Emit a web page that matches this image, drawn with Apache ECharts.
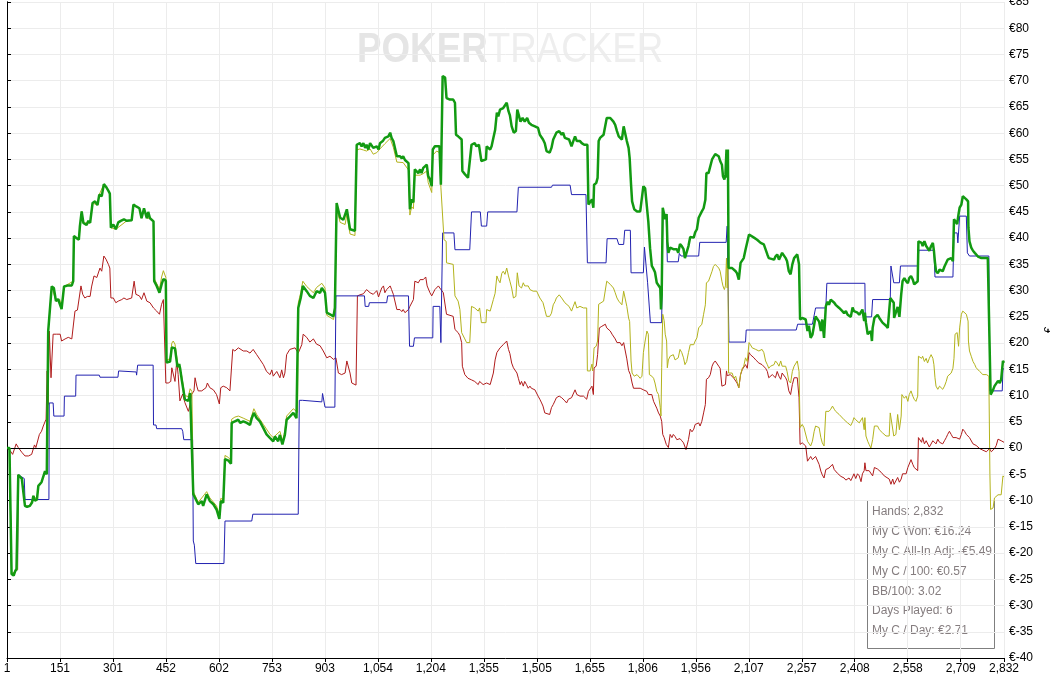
<!DOCTYPE html>
<html>
<head>
<meta charset="utf-8">
<script src="https://cdn.jsdelivr.net/npm/echarts@6/dist/echarts.min.js"></script>
<style>
html,body{margin:0;padding:0;background:#fff;overflow:hidden;}
#chart{width:1050px;height:678px;}
</style>
</head>
<body>
<div id="chart"></div>
<script>
// [hand, euro] points
const wonLine = [[1,0],[8,0],[11,-12],[14,-24],[20,-24.3],[24,-23.5],[28,-23],[31,-23.2],[33,-5.1],[38,-5.3],[43,-5.8],[48,-6],[52,-11],[58,-11.2],[66,-11],[72,-10.4],[76,-9.1],[80,-10],[86,-9.8],[90,-7.2],[95,-7],[99,-6.5],[104,-6.2],[109,-4.4],[114,-5],[116,-4.8],[118,22.3],[123,22.5],[128,30.8],[134,30.5],[140,28],[146,28.4],[151,28.3],[156,26.5],[163,30.8],[175,31],[185,31],[189,31.8],[191,40.4],[199,40],[205,39.7],[208,42.3],[213,45.1],[218,42.9],[227,42.5],[232,43.3],[237,42.9],[244,46.7],[251,47],[258,46.3],[263,48.3],[270,48],[276,50.3],[282,49.8],[289,49],[293,48.5],[296,42],[303,42.6],[310,41.7],[317,43],[324,43.3],[333,43.6],[341,43.3],[355,43.4],[360,46.4],[369,46],[377,45.7],[383,43.8],[390,45.7],[398,43.8],[402,45],[407,43.8],[417,43.2],[419,31.8],[426,30.9],[434,29.6],[440,31.2],[445,32.2],[452,31.9],[454,16.3],[464,16.5],[469,19.2],[478,19],[485,15.5],[490,16],[493,15],[497,13.1],[506,9.3],[516,9],[521,10.5],[526,10.3],[530,-8.8],[535,-8.7],[544,-10.7],[554,-10.1],[558,-11],[568,-8.8],[577,-10.1],[587,-10.7],[596,-11.7],[604,-13.5],[608,-10.1],[615,-10.4],[620,-2.1],[630,-2.4],[637,-3],[639,4.8],[648,5.1],[658,5.4],[663,4.8],[672,5.1],[682,4.8],[691,4.4],[696,5.7],[702,6.7],[710,5.7],[719,5.1],[729,3.8],[738,2.6],[748,1.9],[757,1.3],[762,2.2],[771,1.3],[776,2.5],[783,0.7],[790,2.5],[795,5.4],[804,6],[814,6.7],[823,5.7],[826,6],[828,26.7],[835,28.6],[841,30.9],[852,29.9],[861,29],[871,28.6],[880,29.9],[890,29.6],[895,30.5],[904,29.6],[909,25.8],[918,25.5],[928,25.1],[932,26.7],[937,46.7],[942,47],[947,43.9],[956,43.5],[961,43.4],[966,45.5],[970,45.7],[975,41.7],[989,41.4],[994,57.8],[1003,58.1],[1008,57.5],[1013,58.1],[1018,57.2],[1022,57.8],[1027,56.9],[1032,58.1],[1037,57.8],[1041,57.2],[1046,56.9],[1051,57.5],[1056,56.9],[1060,58.1],[1068,58.5],[1074,59.1],[1079,58.8],[1084,59.4],[1089,60.1],[1093,59.1],[1098,58.5],[1103,58.5],[1108,55.6],[1117,55.6],[1122,55.2],[1126,55.6],[1131,54.9],[1136,55.2],[1141,54.3],[1145,45.5],[1150,47.4],[1155,46.8],[1159,53.1],[1164,53.4],[1169,52.4],[1174,53.1],[1178,52.4],[1183,53.4],[1188,53.7],[1193,54],[1197,51.8],[1202,51.2],[1207,49.9],[1210,56.9],[1216,57.5],[1221,57.8],[1229,57.5],[1233,50.2],[1235,50.5],[1238,70.9],[1245,70.6],[1249,66.7],[1259,66.4],[1268,66.4],[1273,65.8],[1276,59.7],[1282,59.4],[1292,58.8],[1294,52.8],[1301,52.2],[1310,51.5],[1315,51.2],[1320,57.8],[1329,58.1],[1334,57.5],[1341,57.8],[1348,54.7],[1353,54.7],[1361,55],[1363,57.5],[1368,57.5],[1373,56.9],[1377,57.5],[1382,59.1],[1387,60.6],[1392,63.9],[1396,63.2],[1401,64.5],[1410,64.8],[1415,64.5],[1420,65.8],[1425,64.2],[1429,63.4],[1434,61.3],[1440,60.1],[1446,60.4],[1450,64.5],[1455,64.5],[1459,62.2],[1465,62.9],[1471,62.2],[1478,62.9],[1483,62],[1490,61.6],[1500,61.3],[1509,61],[1514,59.7],[1519,59.4],[1523,58.8],[1528,58.1],[1533,56.6],[1542,56.3],[1547,57.2],[1552,58.8],[1557,59.1],[1561,60.1],[1569,60.4],[1576,59.7],[1580,60.1],[1585,59.1],[1590,59.4],[1597,58.8],[1604,57.5],[1609,58.5],[1614,59.4],[1619,58.5],[1628,58.5],[1633,58.1],[1640,57.8],[1649,57.8],[1652,46.4],[1657,46.4],[1662,47.4],[1666,45.8],[1668,50.2],[1674,50.5],[1678,51.5],[1681,58.5],[1685,59.1],[1690,58.8],[1695,59.7],[1700,59.7],[1704,62.9],[1709,63.2],[1714,62.9],[1719,62.6],[1723,62.2],[1728,61.6],[1733,60.4],[1738,59.4],[1742,59.1],[1747,58.8],[1752,61.3],[1756,61],[1761,58.5],[1766,57.2],[1769,55.3],[1773,50.2],[1776,47],[1782,45.5],[1790,45.1],[1799,45.1],[1804,44.8],[1808,49.9],[1813,49.5],[1818,49.2],[1822,43.2],[1827,38.1],[1832,34.7],[1837,34.1],[1841,33.5],[1846,31.5],[1851,31.5],[1856,30.5],[1858,26.4],[1860,29.2],[1863,45.8],[1867,46.1],[1870,43.6],[1874,44.6],[1876,39.4],[1879,37.2],[1884,38.2],[1893,37.9],[1898,37.6],[1903,37.9],[1907,37.2],[1912,38.9],[1917,38.5],[1922,37.9],[1926,36.2],[1931,36.5],[1936,38.5],[1941,40.2],[1951,40.1],[1955,41.1],[1960,41.7],[1965,43.9],[1969,43.6],[1974,45.1],[1979,45.7],[1984,47.3],[1987,52.4],[1993,52.4],[1998,52.1],[2003,55],[2007,55.3],[2012,56],[2017,56.1],[2022,55.6],[2026,54.7],[2031,54],[2034,51.8],[2038,51.2],[2041,52.1],[2044,56.9],[2046,51.5],[2048,56.9],[2050,34.3],[2055,34.6],[2060,34.3],[2065,34.6],[2070,33.7],[2074,33.3],[2079,32.1],[2084,35.3],[2089,35.6],[2093,36.2],[2098,37.8],[2103,37.5],[2108,40.7],[2112,40.4],[2122,40.1],[2131,39.7],[2141,39.1],[2145,39.4],[2150,38.8],[2155,38.5],[2160,36.9],[2164,36.2],[2169,35.9],[2179,35.9],[2183,36.5],[2188,36.9],[2193,35.9],[2198,35.6],[2202,37.2],[2207,36.9],[2212,36.2],[2216,35.6],[2221,33.7],[2226,33.1],[2231,35],[2236,36.2],[2240,36.5],[2245,36.9],[2250,35],[2253,24.5],[2259,24.8],[2264,24.5],[2269,24.5],[2274,22.3],[2278,23.3],[2283,21],[2288,21.6],[2293,23.5],[2297,25.1],[2302,24.8],[2307,24.1],[2312,22.3],[2316,24.5],[2321,21],[2324,21],[2326,27],[2331,27.9],[2335,27.3],[2340,28.3],[2345,28.6],[2350,27.7],[2354,27.3],[2359,27],[2364,26.7],[2369,26.4],[2373,26.1],[2378,25.7],[2383,26.1],[2388,25.4],[2392,25.7],[2397,25],[2402,26.8],[2406,26.1],[2411,26.4],[2416,25.8],[2421,25.4],[2426,25.1],[2430,26.4],[2435,24.2],[2437,25.8],[2440,23.9],[2445,21.7],[2449,21.4],[2454,22.3],[2457,20.4],[2459,22.9],[2464,24.8],[2468,25.1],[2473,25.4],[2478,24.8],[2483,24.5],[2487,23.9],[2492,23.6],[2497,23.3],[2502,22.9],[2506,22.9],[2509,28.6],[2513,28.3],[2519,27.7],[2520,24.8],[2525,24.8],[2530,26.9],[2535,25],[2540,29.2],[2544,31.8],[2549,32.4],[2554,31.8],[2559,31.4],[2563,32.4],[2568,32.8],[2573,32.1],[2577,31.2],[2582,30.9],[2587,31.8],[2589,39.4],[2594,39.7],[2598,39.1],[2601,38.5],[2606,39.4],[2611,38.5],[2615,38.8],[2620,37.6],[2625,38.5],[2630,39.1],[2633,37.6],[2636,35.4],[2639,33.7],[2644,33.3],[2649,34],[2653,34.3],[2658,33.7],[2663,34.6],[2668,34.9],[2672,35.9],[2677,35.6],[2682,36.2],[2687,35.6],[2690,43.6],[2693,43.6],[2699,42.7],[2703,44.6],[2706,45.8],[2711,46.4],[2715,48],[2720,48],[2725,47.4],[2730,47],[2731,42],[2734,39.4],[2739,38.2],[2744,37.6],[2749,37.2],[2753,36.9],[2758,36.5],[2763,36.5],[2768,36.2],[2772,35.9],[2777,36.2],[2782,35.9],[2786,36.2],[2789,36.1],[2794,10.2],[2801,11.1],[2805,11.8],[2810,11.5],[2815,12.8],[2820,12.4],[2824,13.1],[2829,16.6],[2832,16.24]];

const allInAdjLine = [[1,0],[8,0],[11,-12],[14,-24],[24,-23.5],[31,-23.2],[33,-5.1],[43,-5.8],[52,-11],[66,-11],[76,-9.1],[86,-9.8],[90,-7.2],[99,-6.5],[109,-4.4],[116,-4.8],[118,22.3],[123,22.5],[128,30.8],[140,28],[151,28.3],[156,26.5],[163,30.8],[189,31.8],[191,40.4],[205,39.7],[213,45.1],[218,42.9],[237,42.9],[244,46.7],[258,46.3],[263,48.3],[276,50.3],[289,49],[293,48.5],[296,42],[310,41.7],[341,43.3],[355,43.4],[360,46.4],[377,45.7],[383,43.8],[390,45.7],[398,43.8],[407,43.8],[417,43.2],[419,32.3],[434,30.3],[440,32.6],[445,33.8],[452,32.5],[454,16.8],[464,17],[469,20],[473,20.4],[478,19.8],[485,16.4],[490,16.6],[497,13.8],[506,10],[516,9.8],[521,11.3],[526,10.8],[530,-8.3],[544,-10.3],[554,-9.5],[568,-8.3],[577,-9.5],[596,-11],[604,-12.8],[608,-9.6],[615,-9.8],[620,-1.4],[630,-1.8],[637,-2.4],[639,5.5],[648,5.9],[658,6.1],[672,5.7],[691,5.1],[702,7.5],[710,6.4],[729,4.5],[748,2.6],[757,2],[776,3.2],[783,1.4],[790,3.2],[795,6.1],[814,7.5],[826,6.8],[828,27.6],[835,29.6],[841,31.8],[852,30.8],[871,29.6],[880,30.6],[895,31.4],[904,30.5],[909,25.3],[928,24.5],[932,26],[937,45.7],[942,45.8],[947,43],[961,42.6],[966,44.5],[970,44.8],[975,40.8],[989,40.5],[994,56.8],[1003,57],[1013,56.8],[1022,56.6],[1032,57],[1041,56],[1051,56.3],[1060,57],[1074,58],[1089,59],[1098,57.3],[1103,57.3],[1108,54.5],[1126,54.4],[1141,53],[1145,44.4],[1150,46],[1155,45.6],[1159,52],[1174,52],[1183,52.3],[1193,52.8],[1197,50.6],[1207,48.7],[1210,55.8],[1221,56.6],[1229,56.3],[1233,49.7],[1235,49.6],[1242,39.7],[1248,39.4],[1249,35.3],[1268,35],[1273,29],[1282,28],[1287,26.4],[1292,22],[1301,20.8],[1306,20.1],[1315,20.1],[1320,27],[1329,26.7],[1339,26.1],[1343,26.7],[1348,23.9],[1353,23.6],[1361,23.9],[1363,26.4],[1373,26.1],[1377,26.4],[1382,28.3],[1387,29.5],[1392,32.8],[1396,32.1],[1401,31.5],[1406,33.3],[1410,33.7],[1415,33.1],[1420,34.3],[1425,32.8],[1429,31.8],[1434,30.5],[1439,28.6],[1446,28.9],[1450,33.4],[1455,30.9],[1462,30.5],[1467,31.5],[1471,30.9],[1476,31.2],[1481,30.9],[1486,30.2],[1495,29.9],[1505,29.9],[1514,28.6],[1523,27.7],[1528,26.4],[1533,25.1],[1542,25.1],[1547,25.7],[1552,27.3],[1557,27.9],[1561,28.6],[1569,29.2],[1576,28.6],[1580,28.9],[1585,27.7],[1590,28],[1597,27],[1604,26.1],[1609,27],[1614,27.9],[1619,26.7],[1628,27],[1638,26.7],[1647,26.7],[1649,14.7],[1657,14.7],[1662,16],[1664,14.7],[1668,19.1],[1674,19.4],[1678,20.4],[1681,27.4],[1685,27.7],[1695,28],[1700,28.3],[1704,31.8],[1709,31.5],[1714,31.2],[1723,30.5],[1728,29.6],[1733,28.6],[1738,28],[1742,27.7],[1747,27.3],[1752,29.9],[1756,29.9],[1761,27],[1766,24.8],[1769,24.1],[1773,16.6],[1776,14.3],[1782,13.7],[1790,14],[1799,13.3],[1804,13.7],[1808,18.2],[1813,20.4],[1818,22.3],[1822,21.7],[1825,14],[1832,13.7],[1837,13.3],[1841,12.4],[1846,10.8],[1851,10.2],[1856,7.7],[1858,6.1],[1860,15.3],[1863,25.5],[1867,24.3],[1870,21.7],[1874,20.4],[1876,15.3],[1879,16.8],[1884,17.5],[1889,17.2],[1893,17.8],[1898,16.8],[1903,16.5],[1907,17.2],[1912,18.8],[1917,18.2],[1922,17.2],[1926,15.9],[1931,16.5],[1936,18.2],[1941,19.7],[1951,19.7],[1955,20.4],[1960,21],[1965,22.9],[1969,22.9],[1974,23.6],[1979,25.5],[1984,27.3],[1987,31.5],[1993,31.8],[1998,32.1],[2003,33.7],[2007,34.6],[2012,35],[2017,35.3],[2022,34.3],[2026,33.7],[2031,31.8],[2034,30.9],[2038,30.2],[2041,30.9],[2044,36.2],[2046,30.5],[2048,34.9],[2050,14.3],[2055,14],[2060,14.3],[2065,13.3],[2070,13.7],[2074,12.7],[2079,11.5],[2084,14],[2089,15.2],[2093,15.6],[2098,17.2],[2103,16.5],[2108,20.1],[2112,19.7],[2117,19.1],[2122,19.4],[2127,18.8],[2131,19.1],[2136,18.5],[2141,18.5],[2145,18.8],[2150,18.2],[2155,16.6],[2160,15.9],[2164,15.2],[2169,15.6],[2179,15.9],[2183,16.6],[2188,16.2],[2193,15.6],[2198,16.6],[2202,15.6],[2207,15.9],[2212,15.6],[2216,14.6],[2221,12.8],[2226,12.4],[2231,14.6],[2236,15.6],[2240,15.9],[2245,16.6],[2250,14.6],[2253,3.9],[2259,4.5],[2264,3.9],[2269,4.2],[2274,1.3],[2278,1],[2283,0.4],[2288,1.3],[2293,3.2],[2297,4.2],[2302,4.5],[2307,3.9],[2312,2],[2316,1],[2321,0.4],[2324,0.7],[2326,7],[2331,6.7],[2335,7],[2340,7.4],[2345,8],[2350,7.4],[2354,7],[2359,6.7],[2364,6.4],[2369,6.1],[2378,5.4],[2383,5.1],[2388,4.8],[2392,4.5],[2397,4.3],[2402,5],[2406,5.8],[2411,5.4],[2416,5.1],[2421,4.8],[2426,4.5],[2430,5.8],[2435,3.5],[2437,5.8],[2440,2.3],[2445,1.3],[2449,0.7],[2454,0],[2457,-0.3],[2459,1.6],[2464,4.2],[2468,4.5],[2473,4.2],[2478,3.5],[2483,3.2],[2487,2.9],[2492,2.6],[2497,2.3],[2506,2.3],[2509,6.7],[2513,6.4],[2519,2.3],[2525,2.6],[2530,6.4],[2535,3.5],[2540,6.1],[2542,10.2],[2549,9.5],[2554,9.9],[2559,8.9],[2563,10.2],[2568,10.9],[2573,9.9],[2577,9.3],[2582,8.9],[2587,9.9],[2589,17.5],[2594,17.8],[2598,17.1],[2601,17.5],[2606,16.5],[2611,17.1],[2615,16.2],[2620,17.1],[2625,17.8],[2630,17.1],[2633,15.9],[2636,13.4],[2639,11.8],[2644,11.2],[2649,11.8],[2653,12.1],[2658,11.2],[2663,11.8],[2668,12.7],[2672,13.7],[2677,14],[2682,14.3],[2687,15.2],[2690,17.1],[2693,21.7],[2699,22],[2703,19.4],[2706,22.9],[2709,24.5],[2711,25.5],[2715,26.1],[2720,25.8],[2725,25.5],[2730,24.2],[2731,20.4],[2734,18.5],[2739,17.5],[2744,16.5],[2749,15.9],[2753,15.3],[2758,15],[2763,14.6],[2768,14.6],[2772,14],[2777,14.3],[2782,14],[2786,14.3],[2789,13.7],[2792,-5],[2794,-11.7],[2801,-11.4],[2805,-9.5],[2810,-9.2],[2815,-8.9],[2820,-8.6],[2824,-8.9],[2829,-5.3],[2832,-5.49]];

const nonShowdownLine = [[1,0],[10,-0.5],[17,-1.2],[27,0.8],[33,0.1],[43,-0.8],[52,-1.5],[62,-1.5],[71,-1.2],[79,0.6],[83,0.1],[88,0.1],[93,2.6],[99,3.2],[104,4.2],[112,5.5],[115,14.7],[118,8.3],[121,22.3],[126,13.4],[132,21.7],[142,21.7],[147,22],[152,21.7],[156,20.4],[166,20.8],[175,21.1],[180,21.4],[185,20.8],[189,21.1],[194,26.1],[201,26.3],[205,26.1],[211,30.9],[216,29.3],[222,28.6],[229,28.9],[237,28.9],[241,30.7],[248,32.8],[256,32.5],[260,32.2],[265,34.3],[270,33.7],[276,36.6],[282,36],[289,35],[293,34.3],[296,28.6],[303,28.6],[310,27.7],[317,28],[327,28.3],[333,28.6],[341,28.3],[355,28.6],[362,31.8],[367,29.3],[377,29],[383,28.3],[390,29.6],[398,28],[407,27.7],[417,26.7],[426,26.1],[434,25.5],[440,27.4],[445,28.3],[450,28],[452,12.4],[459,12.4],[466,12.7],[469,15.3],[473,15.3],[478,12.7],[483,16.6],[487,14],[492,9],[500,10.3],[506,8.7],[516,7],[521,8.3],[525,10.2],[532,10.9],[535,13.4],[540,11.8],[544,10.9],[554,10.9],[566,11.5],[570,12.4],[577,11.5],[587,11.1],[596,10.2],[604,8.4],[608,11.5],[615,11.8],[625,11.5],[634,10.9],[639,10.9],[642,18.8],[648,18.5],[658,19.1],[663,18.8],[672,18.5],[682,18.5],[691,18.1],[700,18.8],[710,17.8],[719,16.9],[729,15.9],[738,14.6],[748,14],[753,14.9],[757,13.7],[767,14.6],[776,13.4],[781,14.9],[786,13.4],[790,14.3],[795,17.8],[804,18.8],[819,19.1],[828,18.1],[838,19.7],[842,21.7],[852,21.1],[861,20.2],[871,20.8],[880,19.8],[890,19.5],[899,18.5],[909,17.2],[918,17.5],[928,16.9],[935,17.2],[942,14.3],[951,14],[961,14.3],[966,16.6],[970,16.4],[975,14.3],[980,12.4],[992,12],[996,29],[1003,29.2],[1013,29.4],[1022,30.2],[1032,29.6],[1041,29.3],[1051,30],[1056,28.8],[1060,29.6],[1065,30.5],[1070,30.9],[1074,29.6],[1079,30.2],[1089,30.9],[1093,30.2],[1098,29.3],[1103,29],[1108,26.4],[1117,26.4],[1122,26],[1126,26.4],[1131,25.8],[1136,25.5],[1141,26.4],[1145,27],[1155,28.3],[1159,31.8],[1164,32.1],[1169,31.5],[1174,32.1],[1183,32.1],[1190,32.6],[1194,30.9],[1202,29.6],[1207,29],[1211,29.3],[1216,30.2],[1221,30.5],[1226,30.9],[1230,30.5],[1240,29.6],[1245,29.3],[1249,25.5],[1268,25.1],[1273,22.6],[1282,22],[1287,21.4],[1292,20.1],[1294,15.6],[1301,14],[1310,13.3],[1320,13],[1329,12.7],[1339,12.1],[1343,12.7],[1353,12.1],[1363,12.4],[1373,12.1],[1377,11.8],[1382,14.3],[1387,16.8],[1392,18.2],[1401,19.1],[1410,19.7],[1415,19.4],[1420,20.4],[1425,18.8],[1429,18],[1434,16.2],[1439,15.3],[1444,15.3],[1449,14.3],[1453,13.3],[1458,12.1],[1462,12.7],[1467,11.8],[1471,12.7],[1476,12.1],[1481,11.4],[1486,11.8],[1490,11.4],[1500,11.1],[1509,9.9],[1514,9.3],[1519,8.6],[1523,8],[1528,6.7],[1533,6.4],[1542,6.4],[1547,7.7],[1552,8.3],[1557,9],[1561,9.6],[1569,9.9],[1576,9.6],[1580,9.9],[1585,9],[1590,8.6],[1595,9.3],[1600,9.3],[1604,9.6],[1609,9.9],[1614,11.1],[1619,10.2],[1623,9.9],[1628,9.9],[1638,9.9],[1642,9.6],[1647,9.3],[1652,10.8],[1657,11.1],[1662,11.8],[1666,10.2],[1668,15.3],[1674,15.6],[1678,17.8],[1683,22.9],[1690,23.2],[1695,22.9],[1700,23.6],[1704,22.9],[1709,22.6],[1714,22.3],[1719,21.7],[1723,21.4],[1728,20.8],[1733,20.1],[1738,19.8],[1742,20.1],[1747,19.5],[1752,20.1],[1756,19.8],[1761,17],[1766,14.8],[1771,14],[1776,12.4],[1780,11.4],[1785,11.7],[1790,11.4],[1799,11.4],[1808,11.1],[1813,11.4],[1818,10.8],[1822,10.2],[1827,9.9],[1832,10.2],[1837,8.9],[1841,8.6],[1846,7.6],[1851,6.7],[1856,6.1],[1860,5.1],[1863,2.6],[1867,2],[1873,0.7],[1879,0.1],[1884,2.6],[1889,2],[1893,2.6],[1898,2.2],[1903,1.6],[1907,1.9],[1912,1.8],[1917,1.4],[1922,1],[1929,-0.3],[1936,1.6],[1941,3.6],[1946,3.1],[1951,3.6],[1955,4.5],[1960,4.2],[1965,4.8],[1969,4.2],[1974,5.1],[1979,6.7],[1984,8.3],[1987,13.1],[1993,13.4],[1998,14],[2003,15.6],[2007,16.2],[2012,16.6],[2017,16.6],[2022,15.6],[2026,15.2],[2031,11.8],[2036,11.5],[2041,12.1],[2044,14.7],[2046,13.8],[2050,13.7],[2055,14],[2060,13.7],[2065,13.3],[2070,13],[2074,12.4],[2079,11.5],[2084,14],[2089,15],[2093,15.2],[2098,15.9],[2103,15.2],[2108,18.2],[2112,17.8],[2117,17.5],[2122,17.2],[2127,16.8],[2131,16.8],[2136,16.2],[2141,16.5],[2145,15.9],[2150,15.9],[2155,15.2],[2160,14.6],[2164,13.4],[2169,13.1],[2174,14],[2179,13.7],[2183,13.4],[2188,14.6],[2193,13.7],[2198,13.1],[2202,14.3],[2207,14],[2212,13.4],[2216,12.8],[2221,10.9],[2226,10.2],[2231,12.1],[2236,13.4],[2245,13.4],[2250,9.6],[2253,0.7],[2259,1],[2269,0.4],[2274,-2.5],[2278,-2.2],[2283,-1.6],[2288,-2.2],[2293,-1.9],[2297,-1.6],[2302,-1.9],[2307,-3.1],[2312,-4.4],[2316,-5.1],[2321,-5.7],[2326,-4.1],[2331,-4.4],[2335,-3.8],[2340,-3.5],[2345,-3.1],[2350,-4.1],[2354,-4.4],[2359,-4.8],[2364,-5.1],[2369,-5.4],[2378,-5.7],[2383,-6.1],[2388,-6.1],[2392,-5.7],[2397,-6.2],[2402,-5.5],[2406,-4.9],[2411,-5.8],[2416,-4.9],[2421,-5.3],[2426,-6.4],[2430,-4.9],[2435,-4.3],[2437,-2.8],[2440,-4.3],[2445,-4.6],[2449,-4.3],[2454,-4.6],[2459,-5.3],[2464,-3.7],[2468,-3.4],[2473,-4],[2478,-4.3],[2483,-4.6],[2487,-4.9],[2492,-5.3],[2497,-5.6],[2506,-5.9],[2511,-6.9],[2516,-5.9],[2520,-6.9],[2525,-6.9],[2530,-5.6],[2535,-6.5],[2540,-5.9],[2544,-4.9],[2549,-4.6],[2554,-4.9],[2559,-3.7],[2563,-3.7],[2568,-2.2],[2573,-3.1],[2577,-3.7],[2582,-3.4],[2587,-4.3],[2589,2],[2594,1.7],[2598,1.1],[2601,2],[2606,0.8],[2611,1.4],[2615,1.1],[2620,0.2],[2625,0.5],[2630,1.4],[2634,1.4],[2639,0.8],[2644,1.7],[2649,1.1],[2653,1.4],[2658,0.8],[2663,1.4],[2668,2],[2672,2.6],[2677,3.2],[2682,2.6],[2687,2],[2692,2.3],[2696,2],[2701,1.7],[2706,1.7],[2711,2.6],[2715,3.6],[2720,3.2],[2725,2.6],[2730,2.3],[2734,2],[2739,1.7],[2744,0.8],[2749,0.5],[2753,0.5],[2758,0.2],[2763,-0.1],[2768,-0.1],[2772,-0.4],[2777,-0.1],[2782,-0.7],[2786,-0.4],[2791,-0.1],[2796,-0.7],[2801,-0.4],[2805,-0.1],[2810,0.5],[2815,1.7],[2820,1.7],[2824,1.4],[2829,1.7],[2832,1.1]];

const showdownLine = [[1,0],[8,0],[11,-12],[14,-24],[24,-23.5],[31,-23.2],[33,-5.1],[43,-5.5],[50,-5.8],[52,-9.8],[120,-9.8],[121,8.6],[132,8.6],[134,6.1],[163,6.1],[164,9.9],[196,9.9],[197,13.9],[263,13.9],[265,13.5],[316,13.5],[318,14.7],[323,14.5],[368,14.5],[369,13.9],[372,15.8],[416,15.8],[417,4.4],[424,4.4],[426,3.7],[497,3.7],[500,3.2],[503,1.6],[528,1.6],[530,-17.7],[533,-18.5],[537,-22],[617,-22],[620,-13.9],[696,-13.9],[699,-12.6],[828,-12.6],[831,9.1],[840,9.1],[843,8.8],[895,8.8],[897,10.4],[901,10.4],[904,7.8],[932,7.8],[935,29],[1016,29],[1018,27],[1028,27],[1030,27.7],[1079,27.7],[1082,29],[1141,29],[1144,19.4],[1155,19.4],[1158,21],[1210,21],[1211,27],[1230,27],[1233,20.1],[1235,20.1],[1238,41],[1270,41],[1273,37.8],[1315,37.8],[1320,45],[1345,45],[1348,42.3],[1363,42.3],[1366,45],[1449,45],[1453,49.7],[1547,49.7],[1550,50.1],[1600,50.1],[1604,48.3],[1645,48.3],[1649,35.3],[1702,35.3],[1705,39.9],[1733,39.9],[1738,38.8],[1752,38.8],[1755,41.5],[1771,41.5],[1773,33.4],[1808,33.4],[1811,38.3],[1816,38.3],[1820,31.5],[1825,31.5],[1828,23.9],[1860,23.9],[1863,43.9],[1873,43.9],[1876,35.5],[1907,35.5],[1910,37.1],[1915,36.6],[1965,36.6],[1968,39.2],[2043,39.2],[2046,42.3],[2048,42],[2051,20.2],[2098,20.2],[2100,22.5],[2242,22.5],[2246,23.6],[2288,23.6],[2292,23.3],[2297,26.7],[2326,26.7],[2329,31.4],[2437,31.4],[2438,25],[2456,25],[2459,28.3],[2509,28.3],[2511,34.7],[2516,34.7],[2519,31.5],[2535,31.5],[2538,34.7],[2587,34.7],[2590,37.7],[2633,37.7],[2636,32.6],[2687,32.6],[2690,41],[2699,41],[2701,39.1],[2704,39.1],[2706,44.2],[2725,44.2],[2728,37.2],[2734,36.6],[2789,36.6],[2792,10.9],[2827,10.9],[2829,15.1],[2832,15.1]];

const totalHands = 2832;
const handTickStep = 150.45;
const yMin = -40, yMax = 85, yStep = 5;
const statLines = ['Hands: 2,832','My C Won: €16.24','My C All-In Adj: -€5.49','My C / 100: €0.57','BB/100: 3.02','Days Played: 6','My C / Day: €2.71'];

const FONT = 'Liberation Sans, Arial, sans-serif';
const toAxis = pts => pts.map(p => [p[0] - 1, p[1]]);

const chart = echarts.init(document.getElementById('chart'), null, {renderer: 'canvas'});

const statTexts = statLines.map((t, i) => ({
  type: 'text', left: 872, top: 506 + i * 19.8,
  style: {text: t, fill: '#857d7f', font: '12px ' + FONT}
}));

chart.setOption({
  animation: false,
  backgroundColor: '#ffffff',
  grid: {left: 7, right: 46, top: 2, bottom: 20, containLabel: false, outerBoundsMode: 'none'},
  xAxis: {
    type: 'value', min: 0, max: totalHands - 1, interval: handTickStep,
    axisLine: {show: true, onZero: false, lineStyle: {color: '#000', width: 1}},
    axisTick: {show: true, length: 4, lineStyle: {color: '#000'}},
    axisLabel: {color: '#000', fontSize: 12, fontFamily: FONT, margin: 5,
      formatter: v => (Math.floor(v + 1e-6) + 1).toLocaleString('en-US')},
    splitLine: {show: true, lineStyle: {color: '#ececec', width: 1}}
  },
  yAxis: [{
    type: 'value', position: 'right', min: yMin, max: yMax, interval: yStep,
    name: '€', nameLocation: 'middle', nameGap: 34, nameRotate: 90,
    nameTextStyle: {color: '#000', fontSize: 11, fontFamily: FONT},
    axisLine: {show: true, lineStyle: {color: '#000', width: 1}},
    axisTick: {show: true, length: 4, lineStyle: {color: '#000'}},
    axisLabel: {color: '#000', fontSize: 12, fontFamily: FONT, margin: 5,
      formatter: v => '€' + v},
    splitLine: {show: true, lineStyle: {color: '#ececec', width: 1}}
  }, {
    type: 'value', position: 'left', min: yMin, max: yMax, interval: yStep,
    axisLine: {show: true, lineStyle: {color: '#000', width: 1}},
    axisTick: {show: false}, axisLabel: {show: false}, splitLine: {show: false}
  }],
  graphic: [
    {
      type: 'text', left: 357, top: 29, z: 0, scaleX: 0.875,
      style: {
        text: '{a|POKER}{b|TRACKER}',
        rich: {
          a: {fontSize: 42, fontWeight: 'bold', fontFamily: FONT, fill: '#e5e5e5'},
          b: {fontSize: 42, fontFamily: FONT, fill: '#eeeeee'}
        }
      }
    },
    {
      type: 'rect', left: 867, top: 500, z: 0,
      shape: {width: 127, height: 148},
      style: {fill: 'rgba(255,255,255,0)', stroke: '#7f7f7f', lineWidth: 1}
    }
  ].concat(statTexts),
  series: [
    {
      name: 'Non-showdown', type: 'line', data: toAxis(nonShowdownLine),
      showSymbol: false, symbol: 'none', lineStyle: {color: '#b01c1c', width: 1},
      itemStyle: {color: '#b01c1c'}, z: 2,
      markLine: {silent: true, symbol: 'none', label: {show: false},
        lineStyle: {color: '#000', width: 1, type: 'solid'},
        data: [{yAxis: 0}]}
    },
    {
      name: 'Showdown', type: 'line', data: toAxis(showdownLine),
      showSymbol: false, symbol: 'none', lineStyle: {color: '#2222b0', width: 1},
      itemStyle: {color: '#2222b0'}, z: 3
    },
    {
      name: 'My C All-In Adj', type: 'line', data: toAxis(allInAdjLine),
      showSymbol: false, symbol: 'none', lineStyle: {color: '#b3b31c', width: 1},
      itemStyle: {color: '#b3b31c'}, z: 4
    },
    {
      name: 'My C Won', type: 'line', data: toAxis(wonLine),
      showSymbol: false, symbol: 'none', lineStyle: {color: '#129a12', width: 2.5},
      itemStyle: {color: '#129a12'}, z: 5
    }
  ]
});
</script>
</body>
</html>
